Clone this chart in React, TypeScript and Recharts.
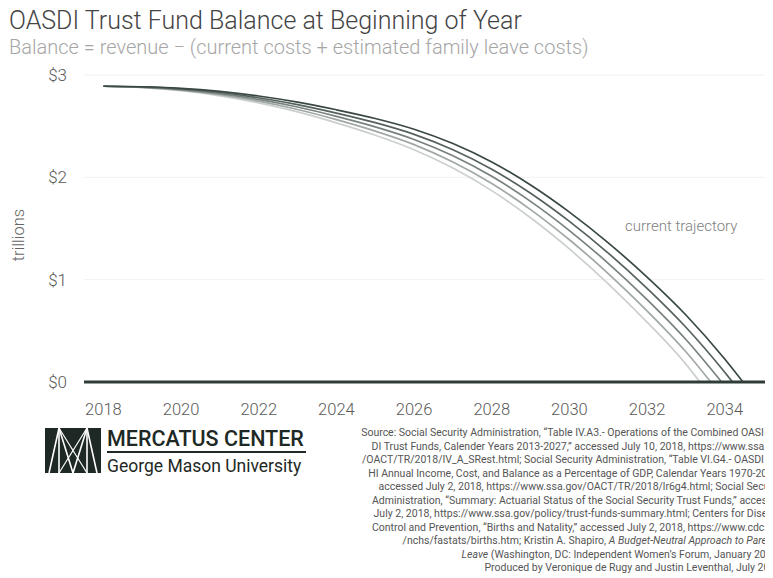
import React from "react";
import { LineChart, Line, XAxis, YAxis, CartesianGrid } from "recharts";

const years = [2018, 2019, 2020, 2021, 2022, 2023, 2024, 2025, 2026, 2027, 2028, 2029, 2030, 2031, 2032, 2033, 2034];
const currentTrajectory = [2.89, 2.885, 2.87, 2.84, 2.795, 2.735, 2.66, 2.575, 2.47, 2.33, 2.15, 1.925, 1.66, 1.36, 1.025, 0.655, 0.225];
const leaveScenario1 = [2.89, 2.883, 2.864, 2.829, 2.778, 2.711, 2.628, 2.534, 2.42, 2.27, 2.08, 1.845, 1.57, 1.26, 0.915, 0.535, 0.095];
const leaveScenario2 = [2.89, 2.881, 2.858, 2.818, 2.761, 2.687, 2.596, 2.493, 2.37, 2.21, 2.01, 1.765, 1.48, 1.16, 0.805, 0.415];
const leaveScenario3 = [2.89, 2.879, 2.852, 2.807, 2.744, 2.663, 2.564, 2.452, 2.32, 2.15, 1.94, 1.685, 1.39, 1.06, 0.695, 0.295];
const leaveScenario4 = [2.89, 2.877, 2.846, 2.796, 2.727, 2.639, 2.532, 2.411, 2.27, 2.09, 1.87, 1.605, 1.3, 0.96, 0.585, 0.175];
const depletionYears = [2034.47, 2034.2, 2033.92, 2033.64, 2033.36];
const seriesNames = ["current", "s1", "s2", "s3", "s4"];
const seriesValues = [currentTrajectory, leaveScenario1, leaveScenario2, leaveScenario3, leaveScenario4];
const seriesColors = ["#3a4843", "#56625e", "#78827e", "#a1a8a5", "#cbd0ce"];
const xTicks = [2018, 2020, 2022, 2024, 2026, 2028, 2030, 2032, 2034];
const yTicks = [0, 1, 2, 3];

const sourceLines = [
  { t: "Source: Social Security Administration, \u201cTable IV.A3.- Operations of the Combined OASI and", i: false },
  { t: "DI Trust Funds, Calender Years 2013-2027,\u201d accessed July 10, 2018, https://www.ssa.gov", i: false },
  { t: "/OACT/TR/2018/IV_A_SRest.html; Social Security Administration, \u201cTable VI.G4.- OASDI and", i: false },
  { t: "HI Annual Income, Cost, and Balance as a Percentage of GDP, Calendar Years 1970-2095,\u201d", i: false },
  { t: "accessed July 2, 2018, https://www.ssa.gov/OACT/TR/2018/lr6g4.html; Social Security", i: false },
  { t: "Administration, \u201cSummary: Actuarial Status of the Social Security Trust Funds,\u201d accessed", i: false },
  { t: "July 2, 2018, https://www.ssa.gov/policy/trust-funds-summary.html; Centers for Disease", i: false },
  { t: "Control and Prevention, \u201cBirths and Natality,\u201d accessed July 2, 2018, https://www.cdc.gov", i: false },
  { t: "/nchs/fastats/births.htm; Kristin A. Shapiro, |A Budget-Neutral Approach to Parental", i: true },
  { t: "|Leave| (Washington, DC: Independent Women\u2019s Forum, January 2018).", i: true },
  { t: "Produced by Veronique de Rugy and Justin Leventhal, July 2018.", i: false },
];

const FONT = "Roboto, 'Noto Sans', sans-serif";

function seriesData(k: number) {
  const vals = seriesValues[k];
  const rows = vals.map((v, i) => ({ year: years[i], v }));
  rows.push({ year: depletionYears[k], v: 0 });
  return rows;
}

function renderSourceLine(line: { t: string; i: boolean }) {
  if (!line.i) return line.t;
  const parts = line.t.split("|");
  return parts.map((p, idx) => (
    <tspan key={idx} fontStyle={idx % 2 === 1 ? "italic" : "normal"}>{p}</tspan>
  ));
}

export default function App() {
  return (
    <div style={{ position: "relative", width: 765, height: 570, overflow: "hidden", background: "#fff", fontFamily: FONT }}>
      <div style={{ position: "absolute", left: 0, top: 0 }}>
        <LineChart width={800} height={420} margin={{ top: 67, right: 25, left: 0, bottom: 0 }}>
          <CartesianGrid vertical={false} stroke="#f1f1f1" />
          <XAxis
            type="number"
            dataKey="year"
            domain={[2017.5, 2035.5]}
            ticks={xTicks}
            allowDataOverflow
            height={46}
            tickLine={false}
            tickMargin={15}
            axisLine={{ stroke: "#2f3d38", strokeWidth: 3 }}
            tick={{ fill: "#5a5a5a", fontSize: 16.5, fontFamily: FONT, fontWeight: 300 }}
          />
          <YAxis
            type="number"
            domain={[0, 3]}
            ticks={yTicks}
            width={76}
            tickLine={false}
            axisLine={false}
            tickMargin={11}
            tickFormatter={(v: number) => `$${v}`}
            tick={{ fill: "#5a5a5a", fontSize: 17, fontFamily: FONT, fontWeight: 300 }}
          />
          {seriesNames.map((n, k) => (
            <Line
              key={n}
              data={seriesData(4 - k)}
              dataKey="v"
              type="monotone"
              stroke={seriesColors[4 - k]}
              strokeWidth={1.7}
              dot={false}
              isAnimationActive={false}
            />
          ))}
        </LineChart>
      </div>
      <svg width={765} height={570} style={{ position: "absolute", left: 0, top: 0, pointerEvents: "none" }}>
        <text x={1} y={21} fontSize={25} fontWeight={300} fill="#444" fontFamily={FONT}>
          OASDI Trust Fund Balance at Beginning of Year
        </text>
        <text x={1} y={46} fontSize={20} fontWeight={300} fill="#a6a6a6" fontFamily={FONT}>
          Balance = revenue − (current costs + estimated family leave costs)
        </text>
        <text
          x={10}
          y={227}
          fontSize={16.5}
          fontWeight={300}
          fill="#666"
          fontFamily={FONT}
          textAnchor="middle"
          dominantBaseline="central"
          transform="rotate(-90 10 227)"
        >
          trillions
        </text>
        <text x={617} y={223} fontSize={15} fontWeight={300} fill="#808080" fontFamily={FONT}>
          current trajectory
        </text>
        <g>
          <rect x={37} y={420} width={56} height={45} fill="#1e2824" />
          <polyline points="41,465 51,420 65,465 79,420 89,465" fill="none" stroke="#fff" strokeWidth={1.6} />
          <line x1={51} y1={420} x2={51} y2={465} stroke="#fff" strokeWidth={1.6} />
          <line x1={79} y1={420} x2={79} y2={465} stroke="#fff" strokeWidth={1.6} />
          <line x1={51} y1={420} x2={79} y2={465} stroke="#fff" strokeWidth={1.2} />
          <line x1={79} y1={420} x2={51} y2={465} stroke="#fff" strokeWidth={1.2} />
        </g>
        <text x={99} y={438} fontSize={21.5} fontWeight={500} fill="#1e2824" fontFamily={FONT}>
          MERCATUS CENTER
        </text>
        <rect x={99} y={443} width={199} height={2} fill="#1e2824" />
        <text x={99} y={464} fontSize={17.5} fontWeight={400} fill="#1e2824" fontFamily={FONT}>
          George Mason University
        </text>
        {sourceLines.map((line, i) => (
          <text
            key={i}
            x={776}
            y={428 + i * 13.5}
            fontSize={10.5}
            fill="#555"
            fontFamily={FONT}
            textAnchor="end"
          >
            {renderSourceLine(line)}
          </text>
        ))}
      </svg>
    </div>
  );
}
